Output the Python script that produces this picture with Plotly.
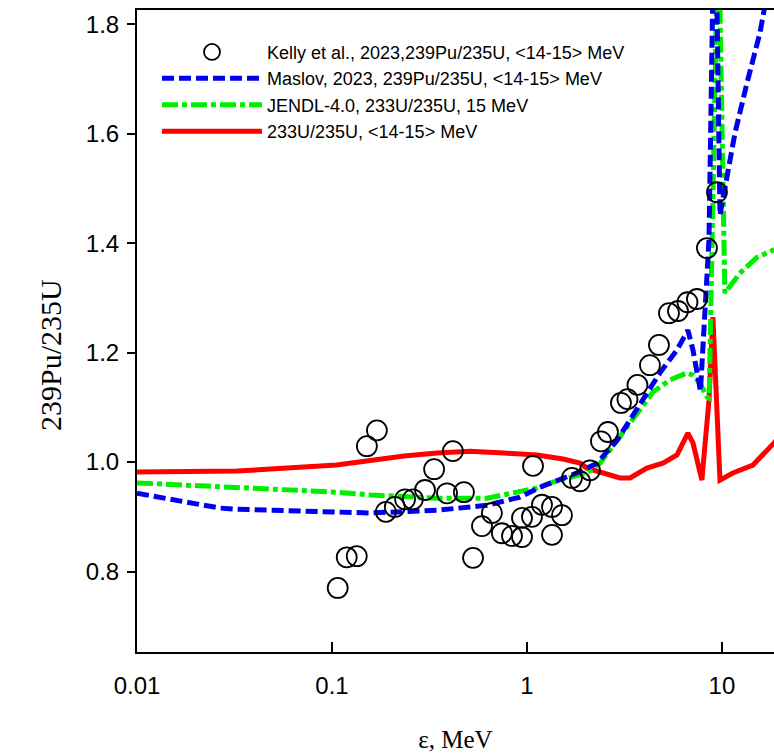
import plotly.graph_objects as go

# ---- data ----
kelly_e = [0.107, 0.119, 0.134, 0.151, 0.170, 0.189, 0.210, 0.237, 0.260, 0.300,
           0.334, 0.389, 0.417, 0.475, 0.529, 0.588, 0.661, 0.744, 0.838, 0.943,
           0.943, 1.061, 1.074, 1.194, 1.344, 1.344, 1.512, 1.701, 1.870, 2.104,
           2.396, 2.602, 3.034, 3.277, 3.687, 4.273, 4.752, 5.349, 5.950, 6.655,
           7.443, 8.377, 9.428]
kelly_r = [0.770, 0.826, 0.828, 1.029, 1.058, 0.909, 0.918, 0.932, 0.932, 0.949,
           0.987, 0.943, 1.020, 0.945, 0.825, 0.883, 0.907, 0.870, 0.865, 0.863,
           0.898, 0.900, 0.993, 0.922, 0.918, 0.867, 0.903, 0.971, 0.965, 0.985,
           1.038, 1.055, 1.108, 1.115, 1.141, 1.177, 1.214, 1.272, 1.276, 1.292,
           1.298, 1.391, 1.493]

maslov_e = [0.01, 0.0266, 0.0314, 0.0718, 0.1567, 0.345, 0.624, 0.920, 1.166, 1.80,
            2.29, 2.90, 3.66, 4.81, 5.88, 6.69, 7.10, 7.76, 8.58, 9.2,
            9.77, 11.66, 13.43, 15.66, 18.0, 20.0]
maslov_r = [0.943, 0.916, 0.914, 0.9105, 0.907, 0.912, 0.921, 0.936, 0.954, 0.980,
            0.998, 1.040, 1.095, 1.163, 1.205, 1.241, 1.205, 1.130, 1.405, 2.10,
            1.451, 1.601, 1.692, 1.784, 1.90, 1.98]

jendl_e = [0.01, 0.0326, 0.1057, 0.1567, 0.345, 0.624, 0.920, 1.125, 1.36, 2.03,
           2.37, 3.0, 3.66, 4.43, 5.41, 6.62, 7.10, 7.71, 8.38, 8.6,
           9.45, 9.7, 10.35, 12.37, 15.11, 18.27, 20.0]
jendl_r = [0.962, 0.954, 0.945, 0.940, 0.934, 0.934, 0.945, 0.9525, 0.9635, 0.980,
           0.998, 1.046, 1.0895, 1.128, 1.150, 1.163, 1.159, 1.144, 1.119, 1.117,
           1.90, 1.90, 1.309, 1.345, 1.374, 1.387, 1.389]

u233_e = [0.01, 0.0326, 0.1057, 0.234, 0.345, 0.511, 0.762, 1.125, 1.530, 1.870,
          2.03, 2.45, 3.0, 3.38, 4.12, 4.98, 5.88, 6.69, 7.10, 7.89,
          8.18, 8.58, 8.99, 9.42, 9.77, 11.38, 14.42, 18.5, 20.0]
u233_r = [0.982, 0.9836, 0.9945, 1.011, 1.0164, 1.020, 1.0164, 1.0128, 1.0055, 0.998,
          0.989, 0.980, 0.971, 0.971, 0.989, 0.998, 1.013, 1.053, 1.035, 0.967,
          1.027, 1.113, 1.265, 1.077, 0.967, 0.980, 0.9945, 1.035, 1.05]

x_tickvals = [0.01, 0.1, 1, 10]
x_ticktext = ["0.01", "0.1", "1", "10"]
y_tickvals = [0.8, 1.0, 1.2, 1.4, 1.6, 1.8]
y_ticktext = ["0.8", "1.0", "1.2", "1.4", "1.6", "1.8"]

x_title = "ε, MeV"
y_title = "239Pu/235U"

names = ["Kelly et al., 2023,239Pu/235U, <14-15> MeV",
         "Maslov, 2023, 239Pu/235U, <14-15> MeV",
         "JENDL-4.0, 233U/235U, 15 MeV",
         "233U/235U, <14-15> MeV"]

fig = go.Figure()
fig.add_trace(go.Scatter(x=u233_e, y=u233_r, mode="lines", name=names[3],
                         line=dict(color="#ff0000", width=5), legendrank=4))
fig.add_trace(go.Scatter(x=jendl_e, y=jendl_r, mode="lines", name=names[2],
                         line=dict(color="#00ee00", width=5, dash="16px,4px,5px,4px"),
                         legendrank=3))
fig.add_trace(go.Scatter(x=maslov_e, y=maslov_r, mode="lines", name=names[1],
                         line=dict(color="#0000ee", width=5, dash="12px,5px"),
                         legendrank=2))
fig.add_trace(go.Scatter(x=kelly_e, y=kelly_r, mode="markers", name=names[0],
                         marker=dict(symbol="circle-open", size=20, color="black",
                                     line=dict(width=1.8, color="black")),
                         legendrank=1))

fig.update_layout(
    width=774, height=753,
    margin=dict(l=137, r=0, t=10, b=101),
    paper_bgcolor="white", plot_bgcolor="white",
    font=dict(family="Liberation Sans, Arial, sans-serif", color="black"),
    legend=dict(x=0.0314, y=0.963, xanchor="left", yanchor="top",
                bgcolor="rgba(0,0,0,0)", font=dict(size=18, family="Liberation Sans, Arial"),
                itemwidth=100, tracegroupgap=0),
    showlegend=True,
    annotations=[dict(text=y_title, textangle=-90, xref="paper", yref="paper",
                      x=-0.1366, y=0.4626, xanchor="center", yanchor="middle",
                      showarrow=False,
                      font=dict(size=30, family="Liberation Serif, Times New Roman"))],
)
fig.update_xaxes(type="log", range=[-2, 1.267], tickvals=x_tickvals, ticktext=x_ticktext,
                 ticks="inside", ticklen=10, tickwidth=2, tickcolor="black",
                 showline=True, linecolor="black", linewidth=2, mirror=True,
                 showgrid=False, zeroline=False, ticklabelstandoff=11,
                 tickfont=dict(size=24, family="Liberation Sans, Arial"),
                 title=dict(text=x_title, font=dict(size=25, family="Liberation Serif, Times New Roman"),
                            standoff=33))
fig.update_yaxes(range=[0.653, 1.826], tickvals=y_tickvals, ticktext=y_ticktext,
                 ticks="outside", ticklen=8, tickwidth=2, tickcolor="black",
                 showline=True, linecolor="black", linewidth=2,
                 showgrid=False, zeroline=False, ticklabelstandoff=3,
                 tickfont=dict(size=24, family="Liberation Sans, Arial"))

fig.write_html("out.html", config={"displayModeBar": False},
               post_script="document.body.style.margin='0';document.body.style.overflow='hidden';")
